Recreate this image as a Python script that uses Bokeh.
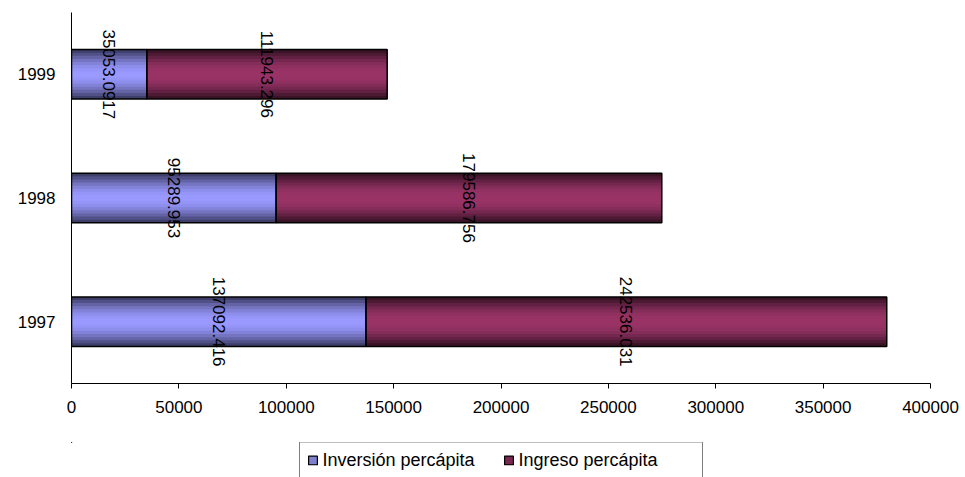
import math
from bokeh.plotting import figure
from bokeh.layouts import column
from bokeh.models import ColumnDataSource, Legend, LegendItem, FixedTicker, Range1d
from bokeh.core.properties import value
from bokeh.transform import dodge
from bokeh.embed import file_html
from bokeh.resources import INLINE

years = ["1997", "1998", "1999"]
inversion = [137092.416, 95289.953, 35053.0917]
ingreso = [242536.031, 179586.756, 111943.296]
inversion_labels = ["137092.416", "95289.953", "35053.0917"]
ingreso_labels = ["242536.031", "179586.756", "111943.296"]
series_names = ["Inversión percápita", "Ingreso percápita"]
x_ticks = [0, 50000, 100000, 150000, 200000, 250000, 300000, 350000, 400000]

FONT = "Liberation Sans"

src = ColumnDataSource(dict(
    y=years,
    inv_l=[0] * len(years),
    inv_r=inversion,
    ing_l=inversion,
    ing_r=[a + b for a, b in zip(inversion, ingreso)],
    inv_mid=[a / 2 for a in inversion],
    ing_mid=[a + b / 2 for a, b in zip(inversion, ingreso)],
    inv_lab=inversion_labels,
    ing_lab=ingreso_labels,
))

p = figure(width=965, height=430, y_range=years, x_range=Range1d(0, 400000),
           output_backend="svg", toolbar_location=None,
           min_border_left=71, min_border_right=35, min_border_top=12, min_border_bottom=47)
p.outline_line_color = None
p.grid.grid_line_color = None
p.background_fill_color = "white"

BAR_H = 0.4
inv_cols = ["#3e3e6a", "#515188", "#6363a5", "#7474c0", "#8282d8", "#8d8deb", "#9595f8", "#9999ff"]
ing_cols = ["#3a1326", "#4d1a33", "#622142", "#74274f", "#842d59", "#8f3160", "#963264", "#993366"]
n = len(inv_cols)
for i in range(n):
    h = BAR_H * (1 - i / n)
    p.hbar(y="y", left="inv_l", right="inv_r", height=h, source=src,
           fill_color=inv_cols[i], line_color=None)
    p.hbar(y="y", left="ing_l", right="ing_r", height=h, source=src,
           fill_color=ing_cols[i], line_color=None)

p.hbar(y="y", left="inv_l", right="inv_r", height=BAR_H, source=src,
       fill_color=None, line_color="black", line_width=1.5)
p.hbar(y="y", left="ing_l", right="ing_r", height=BAR_H, source=src,
       fill_color=None, line_color="black", line_width=1.5)

p.text(x="inv_mid", y="y", text="inv_lab", source=src, angle=-math.pi / 2,
       text_align="center", text_baseline="middle", text_font=value(FONT),
       text_font_size="17px", text_color="black")
p.text(x="ing_mid", y="y", text="ing_lab", source=src, angle=-math.pi / 2,
       text_align="center", text_baseline="middle", text_font=value(FONT),
       text_font_size="17px", text_color="black")

p.xaxis.ticker = FixedTicker(ticks=x_ticks)
p.xaxis.formatter.use_scientific = False
p.xaxis.minor_tick_line_color = None
p.xaxis.major_tick_in = 0
p.xaxis.major_tick_out = 5
p.xaxis.axis_line_color = "black"
p.xaxis.major_label_text_font = FONT
p.xaxis.major_label_text_font_size = "17px"
p.xaxis.major_label_text_color = "black"
p.xaxis.major_label_standoff = 12
p.yaxis.major_tick_line_color = None
p.yaxis.major_tick_out = 0
p.yaxis.major_tick_in = 0
p.yaxis.minor_tick_line_color = None
p.yaxis.axis_line_color = "black"
p.yaxis.major_label_text_font = FONT
p.yaxis.major_label_text_font_size = "17px"
p.yaxis.major_label_text_color = "black"
p.yaxis.major_label_standoff = 16

# Legend strip: the same series, placed beyond the visible ranges so only the legend shows
q = figure(width=965, height=47, y_range=years, x_range=Range1d(500000, 600000),
           output_backend="svg", toolbar_location=None,
           x_axis_location=None, y_axis_location=None,
           min_border_left=71, min_border_right=35, min_border_top=12, min_border_bottom=0)
q.outline_line_color = None
q.grid.grid_line_color = None
lr1 = q.hbar(y=dodge("y", 10, range=q.y_range), left="inv_l", right="inv_r",
             height=BAR_H, source=src,
             fill_color="#8080d0", line_color="black", line_width=1.2)
lr2 = q.hbar(y=dodge("y", 10, range=q.y_range), left="ing_l", right="ing_r",
             height=BAR_H, source=src,
             fill_color="#7a2850", line_color="black", line_width=1.2)

legend = Legend(items=[
    LegendItem(label=series_names[0], renderers=[lr1]),
    LegendItem(label=series_names[1], renderers=[lr2]),
], orientation="horizontal", location="center")
legend.border_line_color = "black"
legend.border_line_width = 1
legend.label_text_font = FONT
legend.label_text_font_size = "18px"
legend.label_text_color = "black"
legend.glyph_width = 11
legend.glyph_height = 11
legend.spacing = 4
legend.padding = 7
legend.label_standoff = 5
legend.label_width = 176
legend.margin = 0
legend.label_height = 18
legend.background_fill_color = "white"
legend.background_fill_alpha = 1
q.add_layout(legend, "center")

layout = column(p, q, spacing=0)
open("out.html", "w").write(file_html(layout, INLINE))
